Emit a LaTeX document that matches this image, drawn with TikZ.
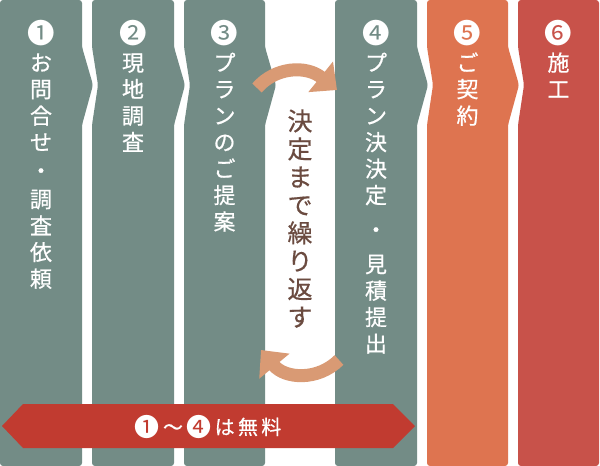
\documentclass[tikz,border=0pt]{standalone}
\usepackage{fontspec}
\usepackage{graphicx}
\setmainfont{Noto Sans CJK JP}[FakeBold=0.6]
\newfontfamily\numfont{Noto Sans CJK JP}
\usetikzlibrary{arrows.meta}
\newcommand\stepno[1]{\raisebox{-0.1em}{\scalebox{1.25}{\numfont #1}}}

\begin{document}
\begin{tikzpicture}[x=0.5pt, y=-0.5pt,
  steplabel/.style={text=white, align=center, inner sep=0pt, anchor=north,
    font=\fontsize{11}{13.25}\selectfont},
  looparrow/.style={line width=6.5pt, draw=loopcol, -{Triangle[width=19pt, length=10.5pt]}}]
% Colors
\definecolor{slate}{RGB}{115,140,134}
\definecolor{contract}{RGB}{222,116,80}
\definecolor{build}{RGB}{200,82,74}
\definecolor{banner}{RGB}{193,59,48}
\definecolor{loopcol}{RGB}{217,154,116}
\definecolor{brownt}{RGB}{107,75,64}

% Canvas
\useasboundingbox (0,0) rectangle (600,466);
\fill[white] (0,0) rectangle (600,466);

% Step columns (left x / right x / colour / chevron / notch)
\foreach \L/\R/\c/\tip/\notch in {0/82/slate/11/0, 92/174/slate/11/6, 184/265/slate/11/6,
    335/417/slate/11/0, 427/508/contract/11/6, 518/599/build/0/6}{
  \path[fill=\c, rounded corners=1.5pt]
    (\L,0) -- (\R,0) -- (\R,47) -- (\R+\tip,85) -- (\R,125) -- (\R,466)
    -- (\L,466) -- (\L,125) -- (\L+\notch,85) -- (\L,47) -- cycle;
}

% Step labels
\node[steplabel] (step1) at (41,20) {\stepno{❶}\\[1.5pt]お\\問\\合\\せ\\[1pt]・\\[1pt]調\\査\\依\\頼};
\node[steplabel] (step2) at (133,20) {\stepno{❷}\\[1.5pt]現\\地\\調\\査};
\node[steplabel] (step3) at (224.5,20) {\stepno{❸}\\[1.5pt]プ\\ラ\\ン\\の\\ご\\提\\案};
\node[steplabel] (step4) at (376,20) {\stepno{❹}\\[1.5pt]プ\\ラ\\ン\\決\\決\\定\\[4pt]・\\[4pt]見\\積\\提\\出};
\node[steplabel] (step5) at (467.5,20) {\stepno{❺}\\[1.5pt]ご\\契\\約};
\node[steplabel] (step6) at (558.5,20) {\stepno{❻}\\[1.5pt]施\\工};

% Repeat note between step 3 and step 4
\node[text=brownt, align=center, inner sep=0pt, anchor=north,
  font=\fontsize{12.5}{14}\selectfont] (repeat) at (300,109) {決\\定\\ま\\で\\繰\\り\\返\\す};

% Repeat arrows
\coordinate (go from) at (257,88);
\coordinate (go to) at (337,90);
\coordinate (back from) at (339,360);
\coordinate (back to) at (261,350);
\draw[looparrow] (go from) .. controls (275,67) and (306,65) .. (go to);
\draw[looparrow] (back from) .. controls (318,381) and (285,379) .. (back to);

% Free of charge banner
\path[fill=banner] (2,426) -- (23,404) -- (393,404) -- (415,426) -- (393,448) -- (23,448) -- cycle;
\node[text=white, inner sep=0pt, font=\fontsize{10}{10}\selectfont] (free) at (208,427)
  {\stepno{❶}\,～\,\stepno{❹}\,は\,無\,料};

\end{tikzpicture}
\end{document}
